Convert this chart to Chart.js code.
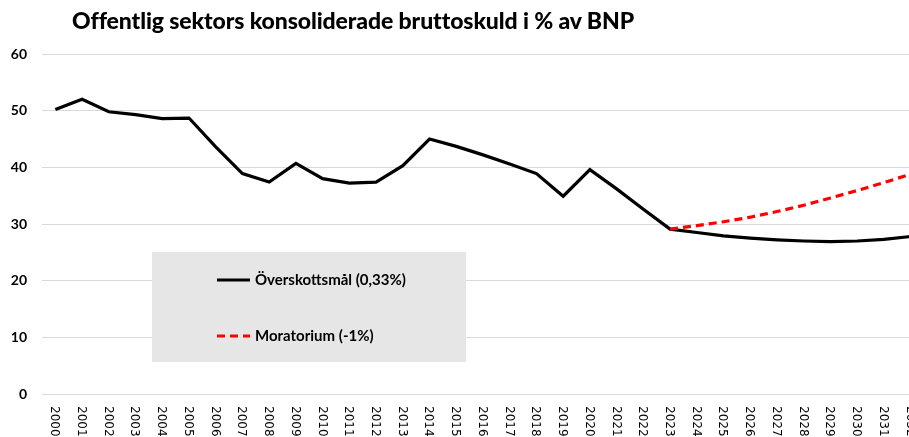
<!DOCTYPE html>
<html>
<head>
<meta charset="utf-8">
<script src="https://cdn.jsdelivr.net/npm/chart.js@4/dist/chart.umd.min.js"></script>
<style>
  body { margin: 0; overflow: hidden; background: #fff; }
  #wrap { position: relative; width: 924px; height: 437px; }
  #title {
    position: absolute; left: 72px; top: 6px;
    font: 900 23px Lato, "Open Sans", sans-serif; color: #000;
    white-space: nowrap; letter-spacing: -0.1px;
  }
</style>
</head>
<body>
<div id="wrap">
  <canvas id="debtChart" width="924" height="437"></canvas>
  <div id="title">Offentlig sektors konsoliderade bruttoskuld i % av BNP</div>
</div>
<script>
// år på x-axeln
const years = [
  "2000", "2001", "2002", "2003", "2004", "2005", "2006", "2007", "2008", "2009", "2010",
  "2011", "2012", "2013", "2014", "2015", "2016", "2017", "2018", "2019", "2020", "2021",
  "2022", "2023", "2024", "2025", "2026", "2027", "2028", "2029", "2030", "2031", "2032",
];

// Överskottsmål (0,33%)
const overskott = [
  50.2, 52.0, 49.8, 49.3, 48.6, 48.7, 43.6, 38.9, 37.4, 40.7, 38.0,
  37.2, 37.4, 40.3, 45.0, 43.7, 42.2, 40.6, 38.9, 34.9, 39.6, 36.2,
  32.6, 29.1, 28.5, 27.9, 27.5, 27.2, 27.0, 26.9, 27.0, 27.3, 27.8,
];

// Moratorium (-1%), börjar 2023
const moratorium = [
  null, null, null, null, null, null, null, null, null, null, null,
  null, null, null, null, null, null, null, null, null, null, null,
  null, 29.1, 29.7, 30.4, 31.2, 32.2, 33.3, 34.6, 35.9, 37.3, 38.8,
];

const yTicks = [0, 10, 20, 30, 40, 50, 60];

// legend i grå ruta inne i diagrammet
const boxLegend = {
  id: "boxLegend",
  beforeDatasetsDraw(chart) {
    const ctx = chart.ctx;
    const a = chart.chartArea;
    const x0 = a.left + 110, y0 = a.top + 198;
    ctx.save();
    ctx.fillStyle = "#e6e6e6";
    ctx.fillRect(x0, y0, 314, 110);
    const items = [chart.data.datasets[0], chart.data.datasets[1]];
    items.forEach((ds, i) => {
      const y = y0 + 28 + i * 56;
      ctx.beginPath();
      ctx.strokeStyle = ds.borderColor;
      ctx.lineWidth = 3;
      ctx.setLineDash(ds.borderDash || []);
      ctx.moveTo(x0 + 65, y);
      ctx.lineTo(x0 + 98, y);
      ctx.stroke();
      ctx.setLineDash([]);
      ctx.fillStyle = "#000";
      ctx.font = "bold 15px Lato, sans-serif";
      ctx.textBaseline = "middle";
      ctx.textAlign = "left";
      ctx.fillText(ds.label, x0 + 103, y);
    });
    ctx.restore();
  },
};

// årtal roterade medurs under axeln
const yearLabels = {
  id: "yearLabels",
  afterDraw(chart) {
    const ctx = chart.ctx;
    const xs = chart.scales.x;
    ctx.save();
    ctx.fillStyle = "#000";
    ctx.font = "12px 'DejaVu Sans', sans-serif";
    ctx.textAlign = "left";
    ctx.textBaseline = "middle";
    years.forEach((lab, i) => {
      const x = xs.getPixelForTick(i) - 1;
      ctx.save();
      ctx.translate(x, chart.chartArea.bottom + 12);
      ctx.rotate(Math.PI / 2);
      ctx.fillText(lab, 0, 0);
      ctx.restore();
    });
    ctx.restore();
  },
};

const ctx = document.getElementById("debtChart").getContext("2d");

new Chart(ctx, {
  type: "line",
  data: {
    labels: years,
    datasets: [
      {
        label: "Överskottsmål (0,33%)",
        data: overskott,
        borderColor: "#000000",
        backgroundColor: "#000000",
        borderWidth: 3.2,
        pointRadius: 0,
        tension: 0,
        order: 1,
      },
      {
        label: "Moratorium (-1%)",
        data: moratorium,
        borderColor: "#ff0000",
        backgroundColor: "#ff0000",
        borderWidth: 3.2,
        borderDash: [8, 5],
        pointRadius: 0,
        tension: 0,
        order: 0,
      },
    ],
  },
  options: {
    responsive: false,
    animation: false,
    layout: { padding: { top: 54, right: 0, left: 0, bottom: 0 } },
    plugins: {
      legend: { display: false },
      tooltip: { enabled: false },
    },
    scales: {
      x: {
        type: "category",
        offset: true,
        grid: { display: false },
        border: { display: false },
        ticks: { display: false },
        afterFit: (s) => { s.height = 43; },
      },
      y: {
        min: 0,
        max: 60,
        afterBuildTicks: (s) => { s.ticks = yTicks.map((v) => ({ value: v })); },
        grid: { color: "#d9d9d9", lineWidth: 1, drawTicks: false },
        border: { display: false },
        ticks: {
          padding: 15,
          color: "#000",
          font: { family: "Lato", weight: "bold", size: 14 },
        },
        afterFit: (s) => { s.width = 42; },
      },
    },
  },
  plugins: [boxLegend, yearLabels],
});
</script>
</body>
</html>
